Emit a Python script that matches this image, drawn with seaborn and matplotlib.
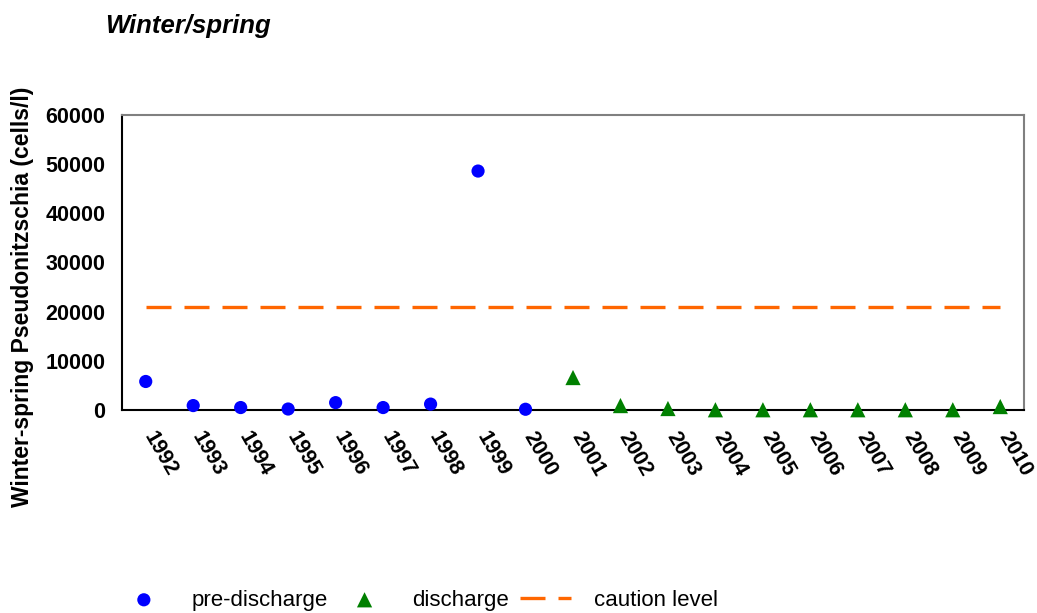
import matplotlib
matplotlib.use("Agg")
import matplotlib.pyplot as plt
from matplotlib.transforms import ScaledTranslation
import seaborn as sns
import pandas as pd

# data
years = [str(y) for y in range(1992, 2011)]
pre_years = ["1992", "1993", "1994", "1995", "1996", "1997", "1998", "1999", "2000"]
pre_values = [5800, 900, 500, 200, 1500, 500, 1200, 48600, 150]
dis_years = ["2001", "2002", "2003", "2004", "2005", "2006", "2007", "2008", "2009", "2010"]
dis_values = [6600, 900, 300, 50, 50, 50, 50, 50, 50, 700]
caution = [21000] * len(years)

pos = {y: i for i, y in enumerate(years)}
pre = pd.DataFrame({"x": [pos[y] for y in pre_years], "v": pre_values})
dis = pd.DataFrame({"x": [pos[y] for y in dis_years], "v": dis_values})
cau = pd.DataFrame({"x": list(range(len(years))), "v": caution})

sns.set_style("white")
plt.rcParams["font.family"] = ["Liberation Sans", "DejaVu Sans"]
plt.rcParams["text.color"] = "black"
plt.rcParams["axes.labelcolor"] = "black"
plt.rcParams["xtick.color"] = "black"
plt.rcParams["ytick.color"] = "black"

fig = plt.figure(figsize=(10.37, 6.13), dpi=100)
ax = fig.add_axes([122 / 1037, 1 - 410 / 613, 902 / 1037, 295 / 613])

sns.scatterplot(data=pre, x="x", y="v", ax=ax, color="#0000FF", marker="o", s=90,
                edgecolor="none", label="pre-discharge", zorder=3, clip_on=False)
sns.scatterplot(data=dis, x="x", y="v", ax=ax, color="#008000", marker="^", s=120,
                edgecolor="none", label="discharge", zorder=3, clip_on=False)
sns.lineplot(data=cau, x="x", y="v", ax=ax, color="#FF6600", linewidth=2.4,
             dashes=False, label="caution level", zorder=2)
ax.lines[-1].set_linestyle((0, (7.5, 3.9)))

ax.set_xlim(-0.5, len(years) - 0.5)
ax.set_ylim(0, 60000)
ax.set_yticks(range(0, 60001, 10000))
ax.set_xticks([i - 0.5 for i in range(len(years) + 1)])
ax.set_xticklabels([])
ax.set_xticks(range(len(years)), minor=True)
ax.set_xticklabels(years, minor=True, rotation=-60, ha="left", va="top",
                   rotation_mode="anchor", fontsize=15.5, fontweight="bold")
ax.tick_params(axis="x", which="major", direction="out", length=5, width=1.2, color="black")
ax.tick_params(axis="x", which="minor", length=0, pad=13)
ax.tick_params(axis="y", direction="out", length=5, width=1.2, color="black", pad=7,
               labelsize=15.5)
for t in ax.get_yticklabels():
    t.set_fontweight("bold")

ax.set_xlabel("")
ax.set_ylabel("Winter-spring Pseudonitzschia (cells/l)", fontsize=16.5, fontweight="bold")
ax.yaxis.set_label_coords(-0.0976, 0.383)

for s in ["left", "bottom"]:
    ax.spines[s].set_color("black")
    ax.spines[s].set_linewidth(1.5)
for s in ["top", "right"]:
    ax.spines[s].set_color("#808080")
    ax.spines[s].set_linewidth(1.5)

fig.text(105 / 1037, 1 - 33 / 613, "Winter/spring", fontsize=18.5, fontweight="bold",
         fontstyle="italic", va="baseline")

handles, labels = ax.get_legend_handles_labels()
ax.get_legend().remove()
fig.legend(handles, labels, loc="center", bbox_to_anchor=(0.403, 0.021), ncol=3,
           frameon=False, fontsize=16, handlelength=2.3, handletextpad=1.0,
           columnspacing=0.5)

# nudge the rotated year labels to the right, as in the original
shift = ScaledTranslation(12 / 100, 0, fig.dpi_scale_trans)
for lbl in ax.get_xticklabels(minor=True):
    lbl.set_transform(lbl.get_transform() + shift)

fig.savefig("out.png", dpi=100)
